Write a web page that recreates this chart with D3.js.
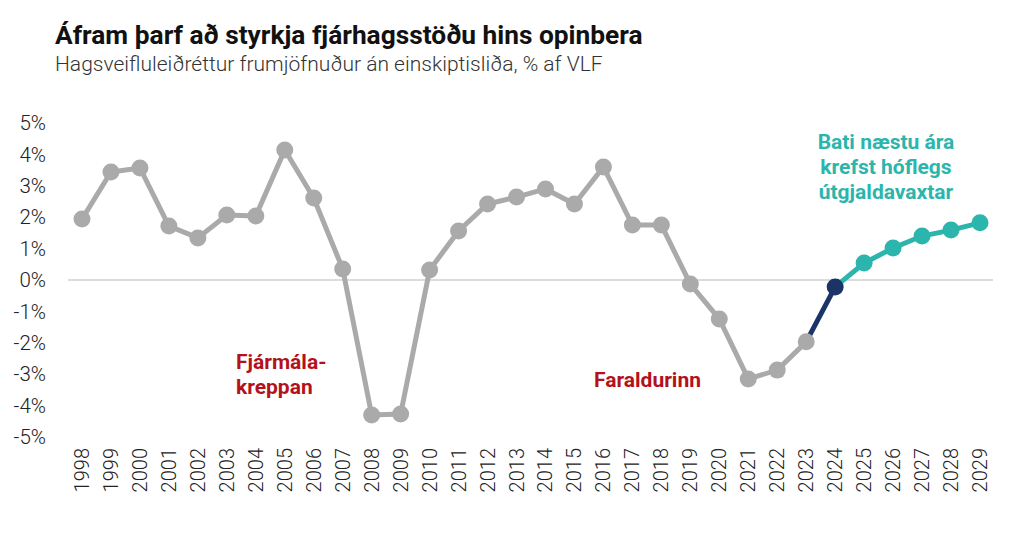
<!DOCTYPE html>
<html>
<head>
<meta charset="utf-8">
<script src="https://cdn.jsdelivr.net/npm/d3@7"></script>
<style>
  body { margin: 0; background: #fff; }
  svg { display: block; font-family: Roboto, "Open Sans", sans-serif; }
</style>
</head>
<body>
<svg width="1024" height="553"></svg>
<script>
// hagsveifluleiðréttur frumjöfnuður, % af VLF
const years = d3.range(1998, 2030)
const history = [1.94, 3.44, 3.57, 1.72, 1.34, 2.07, 2.04, 4.14, 2.61, 0.35,
  -4.3, -4.27, 0.32, 1.56, 2.42, 2.64, 2.9, 2.42, 3.6, 1.75,
  1.75, -0.13, -1.24, -3.15, -2.87, -1.97]
const current = [-0.22]            // 2024
const plan = [0.54, 1.02, 1.4, 1.59, 1.82]   // 2025-2029
const yTicks = [5, 4, 3, 2, 1, 0, -1, -2, -3, -4, -5]

const grey = "#aaaaaa", navy = "#1b3468", teal = "#2bb5ac", red = "#b3121b"

const all = history.concat(current, plan)
const pts = years.map((yr, i) => ({ yr, v: all[i] }))

const svg = d3.select("svg")

const x = d3.scalePoint().domain(years).range([82, 980])
const y = d3.scaleLinear().domain([-5, 5]).range([437, 123])

svg.append("text")
    .attr("x", 55).attr("y", 44)
    .attr("font-size", 26.3).attr("font-weight", 700).attr("fill", "#111")
    .text("Áfram þarf að styrkja fjárhagsstöðu hins opinbera")
svg.append("text")
    .attr("x", 55).attr("y", 71)
    .attr("font-size", 21).attr("font-weight", 300).attr("fill", "#333")
    .text("Hagsveifluleiðréttur frumjöfnuður án einskiptisliða, % af VLF")

// y axis labels
svg.append("g")
  .selectAll("text")
  .data(yTicks)
  .enter().append("text")
    .attr("x", 46)
    .attr("y", d => y(d))
    .attr("dy", "0.35em")
    .attr("text-anchor", "end")
    .attr("font-size", 20.5).attr("font-weight", 300).attr("fill", "#222")
    .text(d => d + "%")

svg.append("line")
    .attr("x1", 68).attr("x2", 993)
    .attr("y1", y(0)).attr("y2", y(0))
    .attr("stroke", "#d0d0d0").attr("stroke-width", 1.5)

// x axis labels
svg.append("g")
  .selectAll("text")
  .data(years)
  .enter().append("text")
    .attr("transform", d => `translate(${x(d)},448) rotate(-90)`)
    .attr("dy", "0.35em")
    .attr("text-anchor", "end")
    .attr("font-size", 20).attr("font-weight", 300).attr("fill", "#222")
    .text(d => d)

const line = d3.line().x(d => x(d.yr)).y(d => y(d.v))
const nH = history.length

const segs = [
  { data: pts.slice(0, nH), color: grey },
  { data: pts.slice(nH - 1, nH + 1), color: navy },
  { data: pts.slice(nH), color: teal }
]
svg.append("g")
  .selectAll("path")
  .data(segs)
  .enter().append("path")
    .attr("d", d => line(d.data))
    .attr("fill", "none")
    .attr("stroke", d => d.color)
    .attr("stroke-width", 5)

svg.append("g")
  .selectAll("circle")
  .data(pts)
  .enter().append("circle")
    .attr("cx", d => x(d.yr))
    .attr("cy", d => y(d.v))
    .attr("r", 8.5)
    .attr("fill", (d, i) => i < nH ? grey : i === nH ? navy : teal)

// annotations
const note = (lines, xx, yy, color, anchor) => {
  const t = svg.append("text")
      .attr("x", xx).attr("y", yy)
      .attr("font-size", 21).attr("font-weight", 700).attr("fill", color)
      .attr("text-anchor", anchor)
  lines.forEach((l, i) => t.append("tspan").attr("x", xx).attr("dy", i ? 25 : 0).text(l))
}
note(["Fjármála-", "kreppan"], 236, 369, red, "start")
note(["Faraldurinn"], 594, 387, red, "start")
note(["Bati næstu ára", "krefst hóflegs", "útgjaldavaxtar"], 886, 149, teal, "middle")
</script>
</body>
</html>
